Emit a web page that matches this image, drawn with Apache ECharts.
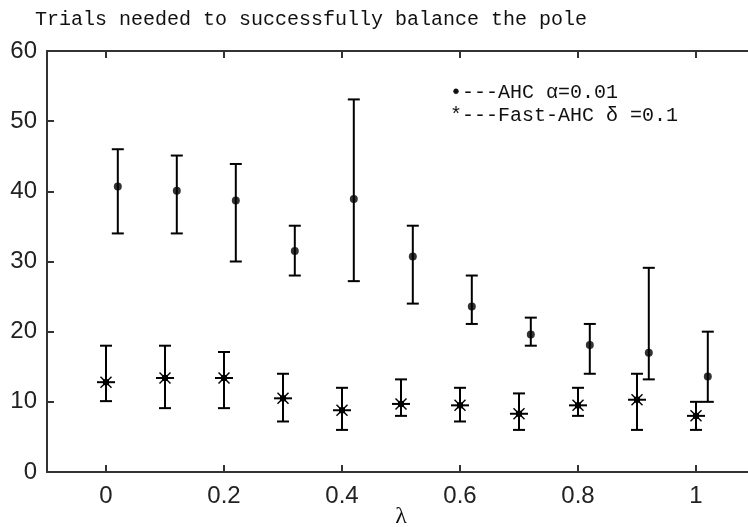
<!DOCTYPE html>
<html>
<head>
<meta charset="utf-8">
<script src="https://cdn.jsdelivr.net/npm/echarts@6/dist/echarts.min.js"></script>
<style>
  html, body { margin: 0; padding: 0; background: #ffffff; }
  #chart { width: 748px; height: 527px; }
</style>
</head>
<body>
<div id="chart"></div>
<script>
// Tick positions
const lambdaTicks = [0, 0.2, 0.4, 0.6, 0.8, 1];
const trialTicks = [0, 10, 20, 30, 40, 50, 60];

// AHC (alpha = 0.01): lambda, mean trials, lower / upper error-bar ends
const ahcLambda = [0.02, 0.12, 0.22, 0.32, 0.42, 0.52, 0.62, 0.72, 0.82, 0.92, 1.02];
const ahcMean   = [40.7, 40.1, 38.7, 31.5, 38.9, 30.7, 23.6, 19.6, 18.1, 17.0, 13.6];
const ahcLower  = [34.0, 34.0, 30.0, 28.0, 27.2, 24.0, 21.1, 18.0, 14.0, 13.2, 10.0];
const ahcUpper  = [46.0, 45.1, 43.9, 35.1, 53.1, 35.1, 28.0, 22.0, 21.1, 29.1, 20.0];

// Fast-AHC (delta = 0.1)
const fastLambda = [0, 0.1, 0.2, 0.3, 0.4, 0.5, 0.6, 0.7, 0.8, 0.9, 1.0];
const fastMean   = [12.8, 13.4, 13.4, 10.5, 8.8, 9.7, 9.5, 8.3, 9.5, 10.3, 8.0];
const fastLower  = [10.1, 9.1, 9.1, 7.2, 6.0, 8.0, 7.2, 6.0, 8.0, 6.0, 6.0];
const fastUpper  = [18.0, 18.0, 17.1, 14.0, 12.0, 13.2, 12.0, 11.2, 12.0, 14.0, 10.0];

// Text
const titleText = 'Trials needed to successfully balance the pole';
const legendLines = ['\u2022---AHC \u03b1=0.01', '*---Fast-AHC \u03b4 =0.1'];
const xName = '\u03bb';

const ink = '#000000';
const axisInk = '#333333';
const monoFont = '"Liberation Mono", "DejaVu Sans Mono", monospace';
const sansFont = '"Liberation Sans", Arial, sans-serif';

const chart = echarts.init(document.getElementById('chart'), null, { renderer: 'canvas' });

function rows(xs, mean, lo, hi) {
  return xs.map((x, i) => [x, mean[i], lo[i], hi[i]]);
}

// Vertical error bar with horizontal caps
function errorBar(params, api) {
  const x = api.value(0);
  const pLo = api.coord([x, api.value(2)]);
  const pHi = api.coord([x, api.value(3)]);
  const cap = 6;
  const style = { stroke: ink, lineWidth: 2 };
  return {
    type: 'group',
    children: [
      { type: 'line', shape: { x1: pLo[0], y1: pLo[1], x2: pHi[0], y2: pHi[1] }, style },
      { type: 'line', shape: { x1: pLo[0] - cap, y1: pLo[1], x2: pLo[0] + cap, y2: pLo[1] }, style },
      { type: 'line', shape: { x1: pHi[0] - cap, y1: pHi[1], x2: pHi[0] + cap, y2: pHi[1] }, style }
    ]
  };
}

// Asterisk marker at the mean
function asterisk(params, api) {
  const c = api.coord([api.value(0), api.value(1)]);
  const r = 9, d = 5.5;
  return {
    type: 'group',
    children: [
      { type: 'line', shape: { x1: c[0] - r, y1: c[1], x2: c[0] + r, y2: c[1] }, style: { stroke: ink, lineWidth: 2 } },
      { type: 'line', shape: { x1: c[0], y1: c[1] - r + 2, x2: c[0], y2: c[1] + r - 2 }, style: { stroke: ink, lineWidth: 2 } },
      { type: 'line', shape: { x1: c[0] - d, y1: c[1] - d, x2: c[0] + d, y2: c[1] + d }, style: { stroke: ink, lineWidth: 1.4 } },
      { type: 'line', shape: { x1: c[0] - d, y1: c[1] + d, x2: c[0] + d, y2: c[1] - d }, style: { stroke: ink, lineWidth: 1.4 } },
      { type: 'rect', shape: { x: c[0] - 3, y: c[1] - 3, width: 6, height: 6 }, style: { fill: ink } }
    ]
  };
}

const baseX = {
  type: 'value', min: -0.1, max: 1.1,
  axisLine: { show: true, onZero: false, lineStyle: { color: axisInk, width: 2 } },
  axisTick: { show: true, inside: true, length: 7, customValues: lambdaTicks, lineStyle: { color: axisInk, width: 2 } },
  splitLine: { show: false }
};
const baseY = {
  type: 'value', min: 0, max: 60, interval: 10,
  axisLine: { show: true, onZero: false, lineStyle: { color: axisInk, width: 2 } },
  axisTick: { show: true, inside: true, length: 7, lineStyle: { color: axisInk, width: 2 } },
  splitLine: { show: false }
};

chart.setOption({
  animation: false,
  backgroundColor: '#ffffff',
  grid: { left: 47, right: -7, top: 51, bottom: 55, containLabel: false, outerBoundsMode: 'none' },
  xAxis: [
    Object.assign({}, baseX, {
      position: 'bottom',
      axisLabel: {
        show: true, customValues: lambdaTicks, margin: 12,
        color: '#222222', fontFamily: sansFont, fontSize: 24,
        formatter: v => String(Math.round(v * 10) / 10)
      },
      name: xName, nameLocation: 'middle', nameGap: 33, nameMoveOverlap: false,
      nameTextStyle: { color: '#111111', fontFamily: '"Liberation Serif", serif', fontSize: 24 }
    }),
    Object.assign({}, baseX, { position: 'top', axisLabel: { show: false } })
  ],
  yAxis: [
    Object.assign({}, baseY, {
      position: 'left',
      axisLabel: {
        show: true, margin: 10, color: '#222222', fontFamily: sansFont, fontSize: 24,
        customValues: trialTicks
      }
    }),
    Object.assign({}, baseY, { position: 'right', axisLabel: { show: false } })
  ],
  graphic: [
    {
      type: 'text', left: 35, top: 10,
      style: { text: titleText, fill: '#111111', font: '20px ' + monoFont }
    },
    {
      type: 'text', left: 450, top: 83,
      style: { text: legendLines[0], fill: '#111111', font: '20px ' + monoFont }
    },
    {
      type: 'text', left: 450, top: 106,
      style: { text: legendLines[1], fill: '#111111', font: '20px ' + monoFont }
    }
  ],
  series: [
    {
      name: 'AHC error', type: 'custom', renderItem: errorBar,
      data: rows(ahcLambda, ahcMean, ahcLower, ahcUpper),
      encode: { x: 0, y: [1, 2, 3] }, silent: true, z: 2
    },
    {
      name: 'AHC', type: 'scatter', symbol: 'circle', symbolSize: 8,
      itemStyle: { color: ink },
      data: ahcLambda.map((x, i) => [x, ahcMean[i]]), z: 3
    },
    {
      name: 'Fast-AHC error', type: 'custom', renderItem: errorBar,
      data: rows(fastLambda, fastMean, fastLower, fastUpper),
      encode: { x: 0, y: [1, 2, 3] }, silent: true, z: 2
    },
    {
      name: 'Fast-AHC', type: 'custom', renderItem: asterisk,
      data: rows(fastLambda, fastMean, fastLower, fastUpper),
      encode: { x: 0, y: 1 }, silent: true, z: 3
    }
  ]
});
</script>
</body>
</html>
